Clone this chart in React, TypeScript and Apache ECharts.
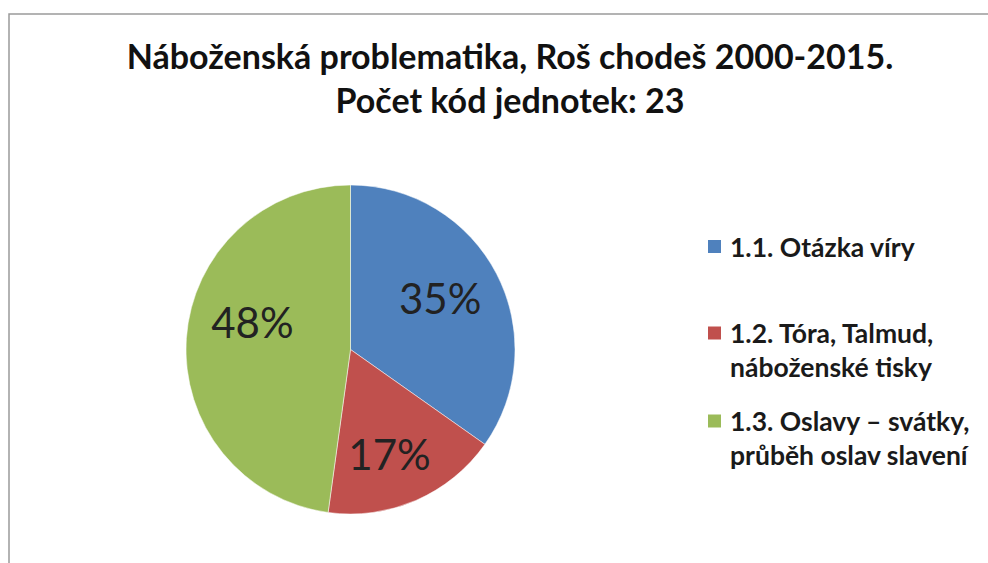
import React, { useEffect, useRef } from "react";
import * as echarts from "echarts";

const titleLines = ["Náboženská problematika, Roš chodeš 2000-2015.", "Počet kód jednotek: 23"];
const categories = ["1.1. Otázka víry", "1.2. Tóra, Talmud,\nnáboženské tisky", "1.3. Oslavy – svátky,\nprůběh oslav slavení"];
const counts = [8, 4, 11];
const colors = ["#4F81BD", "#C0504D", "#9BBB59"];
const labelOffsets = [[14, -12], [5, 26], [-13, -22]];
const legendTops = [229.5, 315, 403];

const LH = 34;

export default function App() {
  const ref = useRef<HTMLDivElement>(null);
  useEffect(() => {
    if (!ref.current) return;
    const chart = echarts.init(ref.current, null, { renderer: "svg" });
    const legends = categories.map((name, i) => {
      const twoLine = name.includes("\n");
      const h = twoLine ? LH * 2 : 15;
      const off = twoLine ? LH / 2 - 7.5 : 0;
      return {
        data: [name],
        orient: "vertical",
        left: 706,
        top: legendTops[i],
        padding: 0,
        itemWidth: 15,
        itemHeight: h,
        icon: twoLine ? `path://M0,${off}h15v15h-15zM0,0M0,${h}` : "rect",
        selectedMode: false,
        textStyle: {
          fontFamily: "Lato",
          fontWeight: "bold",
          fontSize: 26.5,
          lineHeight: LH,
          color: "#1a1a1a",
          padding: [0, 0, 0, 3],
        },
      };
    });
    chart.setOption({
      animation: false,
      backgroundColor: "#fff",
      title: {
        text: titleLines.join("\n"),
        left: 505,
        textAlign: "center",
        top: 28,
        textStyle: {
          fontFamily: "Lato",
          fontWeight: "bold",
          fontSize: 34,
          lineHeight: 44,
          color: "#111",
        },
      },
      legend: legends,
      graphic: [
        {
          type: "rect",
          shape: { x: 9, y: 14, width: 1100, height: 700 },
          style: { fill: "none", stroke: "#9a9a9a", lineWidth: 1.5 },
          silent: true,
        },
      ],
      series: [
        {
          type: "pie",
          center: [350.5, 349.5],
          radius: 164.5,
          startAngle: 90,
          clockwise: true,
          percentPrecision: 0,
          itemStyle: { borderColor: "#fff", borderWidth: 0.5 },
          label: {
            position: "inside",
            formatter: "{d}%",
            fontFamily: "Lato",
            fontSize: 42,
            color: "#222",
          },
          labelLine: { show: false },
          emphasis: { disabled: true },
          data: categories.map((name, i) => ({
            name,
            value: counts[i],
            itemStyle: { color: colors[i] },
            label: { offset: labelOffsets[i] },
          })),
        },
      ],
    });
    return () => chart.dispose();
  }, []);
  return <div ref={ref} style={{ position: "fixed", left: 0, top: 0, width: 988, height: 563 }} />;
}
